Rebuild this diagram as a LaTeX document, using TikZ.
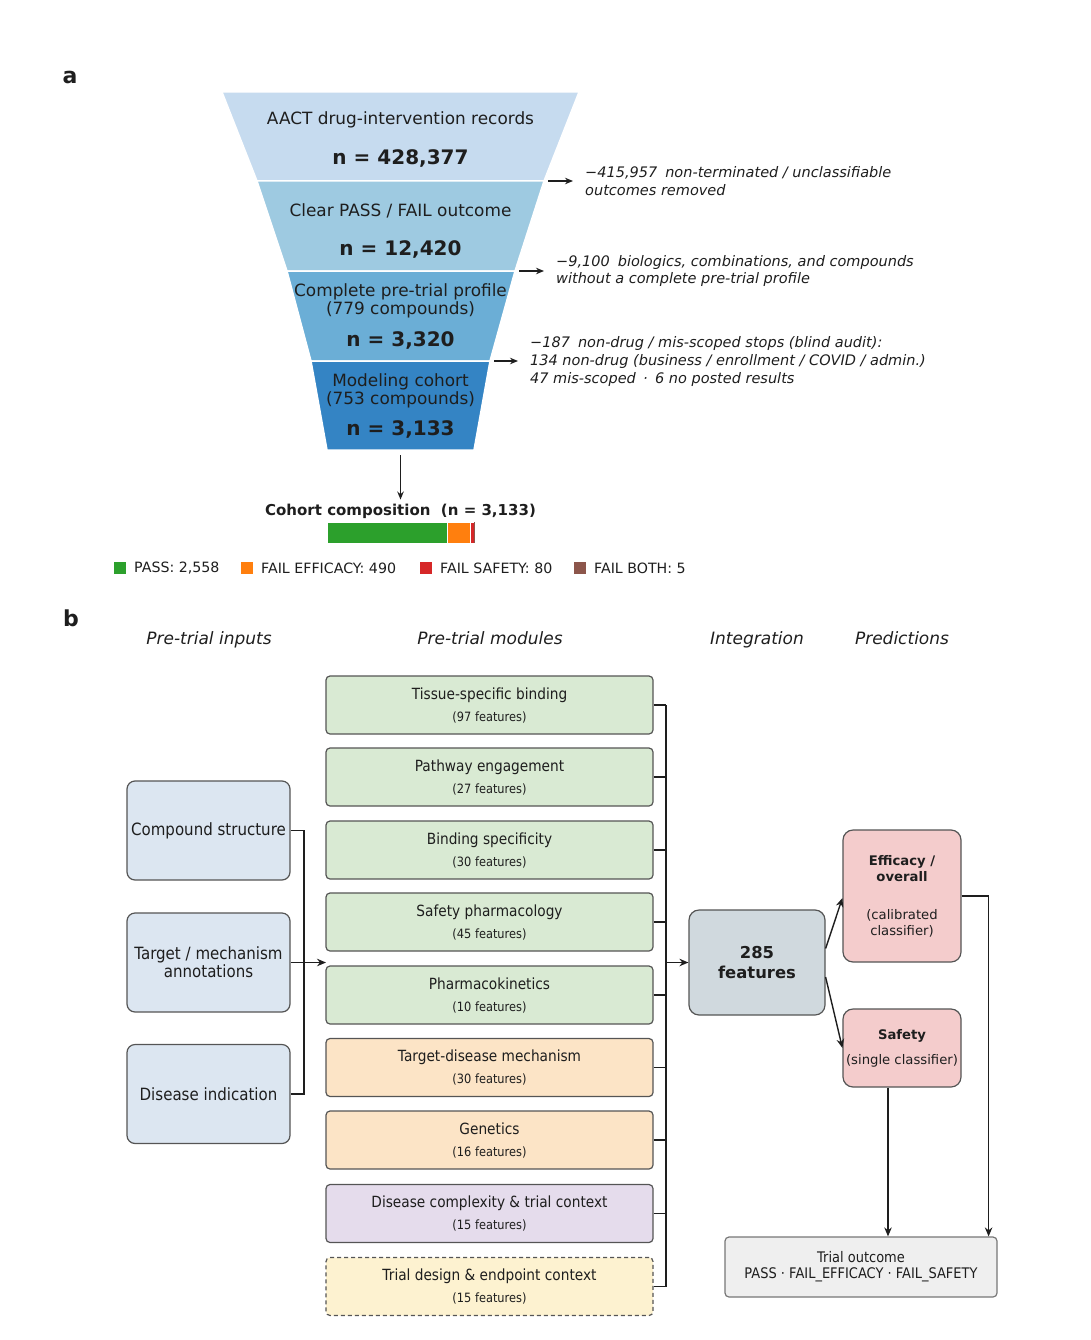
\documentclass[tikz,border=0pt]{standalone}
\usepackage{fontspec}
\setmainfont{DejaVu Sans}
\newfontfamily\condf{DejaVu Sans}[FakeStretch=0.89]
\newcommand{\subfeat}{\condf\fontsize{12.8}{22}\selectfont}
\usetikzlibrary{arrows.meta}
\definecolor{fA}{HTML}{C6DBEF}
\definecolor{fB}{HTML}{9ECAE1}
\definecolor{fC}{HTML}{6BAED6}
\definecolor{fD}{HTML}{3484C4}
\definecolor{cPass}{HTML}{2CA02C}
\definecolor{cEff}{HTML}{FF7F0E}
\definecolor{cSaf}{HTML}{D62728}
\definecolor{cBoth}{HTML}{8C564B}
\definecolor{inFill}{HTML}{DCE6F1}
\definecolor{gFill}{HTML}{D9EAD3}
\definecolor{oFill}{HTML}{FCE4C6}
\definecolor{pFill}{HTML}{E5DCEC}
\definecolor{yFill}{HTML}{FDF2D0}
\definecolor{featFill}{HTML}{D0D9DE}
\definecolor{pinkFill}{HTML}{F4CCCC}
\definecolor{outFill}{HTML}{EFEFEF}
\definecolor{edge}{HTML}{555555}
\definecolor{ink}{HTML}{1E1E1E}
\begin{document}
\begin{tikzpicture}[x=1pt,y=-1pt,
  every node/.style={inner sep=0pt, text=ink},
  funtxt/.style={font=\fontsize{16.9}{18}\selectfont, align=center},
  funnum/.style={font=\bfseries\fontsize{20}{24}\selectfont},
  note/.style={anchor=west, align=left, font=\itshape\fontsize{14.5}{17.8}\selectfont},
  conn/.style={draw=ink, line width=1.4pt},
  arr/.style={conn, -{Stealth[length=9pt,width=7.5pt]}},
  sarr/.style={conn, -{Stealth[length=8pt,width=6.5pt]}},
  legtxt/.style={anchor=west, font=\fontsize{14.2}{16}\selectfont},
  hdr/.style={anchor=base, font=\itshape\fontsize{17}{20}\selectfont},
  plabel/.style={font=\bfseries\fontsize{22}{24}\selectfont},
  inbox/.style={draw=edge, line width=1.2pt, fill=inFill, rounded corners=8pt,
    minimum width=163pt, minimum height=99pt, align=center, inner sep=2pt,
    font=\condf\fontsize{16.9}{18}\selectfont},
  modbox/.style={draw=edge, line width=1.2pt, rounded corners=4pt,
    minimum width=327pt, minimum height=58pt, align=center,
    font=\condf\fontsize{15.4}{22}\selectfont},
  featbox/.style={draw=edge, line width=1.2pt, fill=featFill, rounded corners=10pt,
    minimum width=136pt, minimum height=105pt, align=center,
    font=\bfseries\fontsize{16.4}{20}\selectfont},
  predbox/.style={draw=edge, line width=1.2pt, fill=pinkFill, rounded corners=10pt,
    minimum width=118pt, align=center, font=\fontsize{13.2}{16}\selectfont},
  outbox/.style={draw=edge!80, line width=1.2pt, fill=outFill, rounded corners=4pt,
    minimum width=272pt, minimum height=60pt, align=center,
    font=\condf\fontsize{14.6}{16}\selectfont}
]
\useasboundingbox (0,0) rectangle (1090,1340);

% ---------------- panel a ----------------
\node[plabel] (la) at (70,77) {a};

\filldraw[fill=fA, draw=white, line width=1.5pt] (222,92) -- (579,92) -- (544,181) -- (257,181) -- cycle;
\filldraw[fill=fB, draw=white, line width=1.5pt] (257,181) -- (544,181) -- (515,271) -- (287,271) -- cycle;
\filldraw[fill=fC, draw=white, line width=1.5pt] (287,271) -- (515,271) -- (490,361) -- (311,361) -- cycle;
\filldraw[fill=fD, draw=white, line width=1.5pt] (311,361) -- (490,361) -- (474,450) -- (327,450) -- cycle;

\node[funtxt] (s1t) at (400.5,120) {AACT drug-intervention records};
\node[funnum] (s1n) at (400.5,159) {n = 428,377};
\node[funtxt] (s2t) at (400.5,211) {Clear PASS / FAIL outcome};
\node[funnum] (s2n) at (400.5,249) {n = 12,420};
\node[funtxt] (s3t) at (400.5,301) {Complete pre-trial profile\\(779 compounds)};
\node[funnum] (s3n) at (400.5,340) {n = 3,320};
\node[funtxt] (s4t) at (400.5,391) {Modeling cohort\\(753 compounds)};
\node[funnum] (s4n) at (400.5,429) {n = 3,133};

\node[note] (n1) at (585,181) {−415,957\hspace{0.55em}non-terminated / unclassifiable\\outcomes removed};
\node[note] (n2) at (556,271) {−9,100\hspace{0.55em}biologics, combinations, and compounds\\without a complete pre-trial profile};
\node[note] (n3) at (530,361.5) {−187\hspace{0.55em}non-drug / mis-scoped stops (blind audit):\\134 non-drug (business / enrollment / COVID / admin.)\\47 mis-scoped\hspace{0.5em}·\hspace{0.5em}6 no posted results};

\coordinate (e1) at (548,181);
\coordinate (e2) at (519,271);
\coordinate (e3) at (494,361);
\coordinate (t1) at ([xshift=-12pt]n1.west);
\coordinate (t2) at ([xshift=-12pt]n2.west);
\coordinate (t3) at ([xshift=-12pt]n3.west);
\draw[sarr] (e1) -- (e1 -| t1);
\draw[sarr] (e2) -- (e2 -| t2);
\draw[sarr] (e3) -- (e3 -| t3);

\node[font=\bfseries\fontsize{15}{18}\selectfont] (ct) at (400.5,511) {Cohort composition\hspace{0.7em}(n = 3,133)};
\coordinate (fb) at (400.5,455);
\draw[sarr] (fb) -- ([yshift=4pt]ct.north);

\filldraw[fill=cPass, draw=white, line width=0.5pt] (327,522) rectangle (447,543);
\filldraw[fill=cEff, draw=white, line width=0.5pt] (447,522) rectangle (470,543);
\filldraw[fill=cSaf, draw=white, line width=0.3pt] (470,522) rectangle (473.8,543);
\fill[cBoth] (473.8,522) rectangle (474.1,543);

\fill[cPass] (114,562) rectangle (126,574);
\node[legtxt] (lg1) at (134,568.5) {PASS: 2,558};
\fill[cEff] (241,562) rectangle (253,574);
\node[legtxt] (lg2) at (261,568.5) {FAIL EFFICACY: 490};
\fill[cSaf] (420,562) rectangle (432,574);
\node[legtxt] (lg3) at (440,568.5) {FAIL SAFETY: 80};
\fill[cBoth] (574,562) rectangle (586,574);
\node[legtxt] (lg4) at (594,568.5) {FAIL BOTH: 5};

% ---------------- panel b ----------------
\node[plabel] (lb) at (71,618) {b};
\node[hdr] (h1) at (209,644) {Pre-trial inputs};
\node[hdr] (h2) at (490,644) {Pre-trial modules};
\node[hdr] (h3) at (757,644) {Integration};
\node[hdr] (h4) at (902,644) {Predictions};

\node[inbox] (cs) at (208.5,830.5) {Compound structure};
\node[inbox] (tm) at (208.5,962.5) {Target / mechanism\\annotations};
\node[inbox] (di) at (208.5,1094) {Disease indication};

\node[modbox, fill=gFill] (m1) at (489.5,705) {Tissue-specific binding\\{\subfeat (97 features)}};
\node[modbox, fill=gFill] (m2) at (489.5,777) {Pathway engagement\\{\subfeat (27 features)}};
\node[modbox, fill=gFill] (m3) at (489.5,850) {Binding specificity\\{\subfeat (30 features)}};
\node[modbox, fill=gFill] (m4) at (489.5,922) {Safety pharmacology\\{\subfeat (45 features)}};
\node[modbox, fill=gFill] (m5) at (489.5,995) {Pharmacokinetics\\{\subfeat (10 features)}};
\node[modbox, fill=oFill] (m6) at (489.5,1067.5) {Target-disease mechanism\\{\subfeat (30 features)}};
\node[modbox, fill=oFill] (m7) at (489.5,1140) {Genetics\\{\subfeat (16 features)}};
\node[modbox, fill=pFill] (m8) at (489.5,1213.5) {Disease complexity \& trial context\\{\subfeat (15 features)}};
\node[modbox, fill=yFill, dashed, dash pattern=on 4pt off 3pt] (m9) at (489.5,1286.5) {Trial design \& endpoint context\\{\subfeat (15 features)}};

% inputs -> modules
\coordinate (ib) at (304,962.5);
\coordinate (min) at (326,962.5);
\draw[conn] (cs.east) -| (ib) |- (di.east);
\draw[arr] (tm.east) -- (min);

% modules -> features
\coordinate (ob) at (666,962.5);
\foreach \m in {m1,m2,m3,m4,m5,m6,m7,m8,m9} {
  \draw[conn] (\m.east) -- (\m.east -| ob);
}
\draw[conn] (m1.east -| ob) -- (m9.east -| ob);

\node[featbox] (feat) at (757,962.5) {285\\features};
\draw[arr] (ob) -- (feat.west);

\node[predbox, minimum height=132pt] (eff) at (902,896) {\textbf{Efficacy /}\\\textbf{overall}\\[22pt](calibrated\\classifier)};
\node[predbox, minimum height=78pt] (saf) at (902,1048) {\textbf{Safety}\\[9pt](single classifier)};

\node[outbox] (out) at (861,1267) {Trial outcome\\PASS · FAIL\_EFFICACY · FAIL\_SAFETY};

\draw[arr] ([yshift=14pt]feat.east) -- ([yshift=-2pt]eff.west);
\draw[arr] ([yshift=-14.5pt]feat.east) -- (saf.west);
\draw[arr] (eff.east) -| ([xshift=-9pt]out.north east);
\draw[arr] ([xshift=-14pt]saf.south) -- ([xshift=-14pt]saf.south |- out.north);
\end{tikzpicture}
\end{document}
